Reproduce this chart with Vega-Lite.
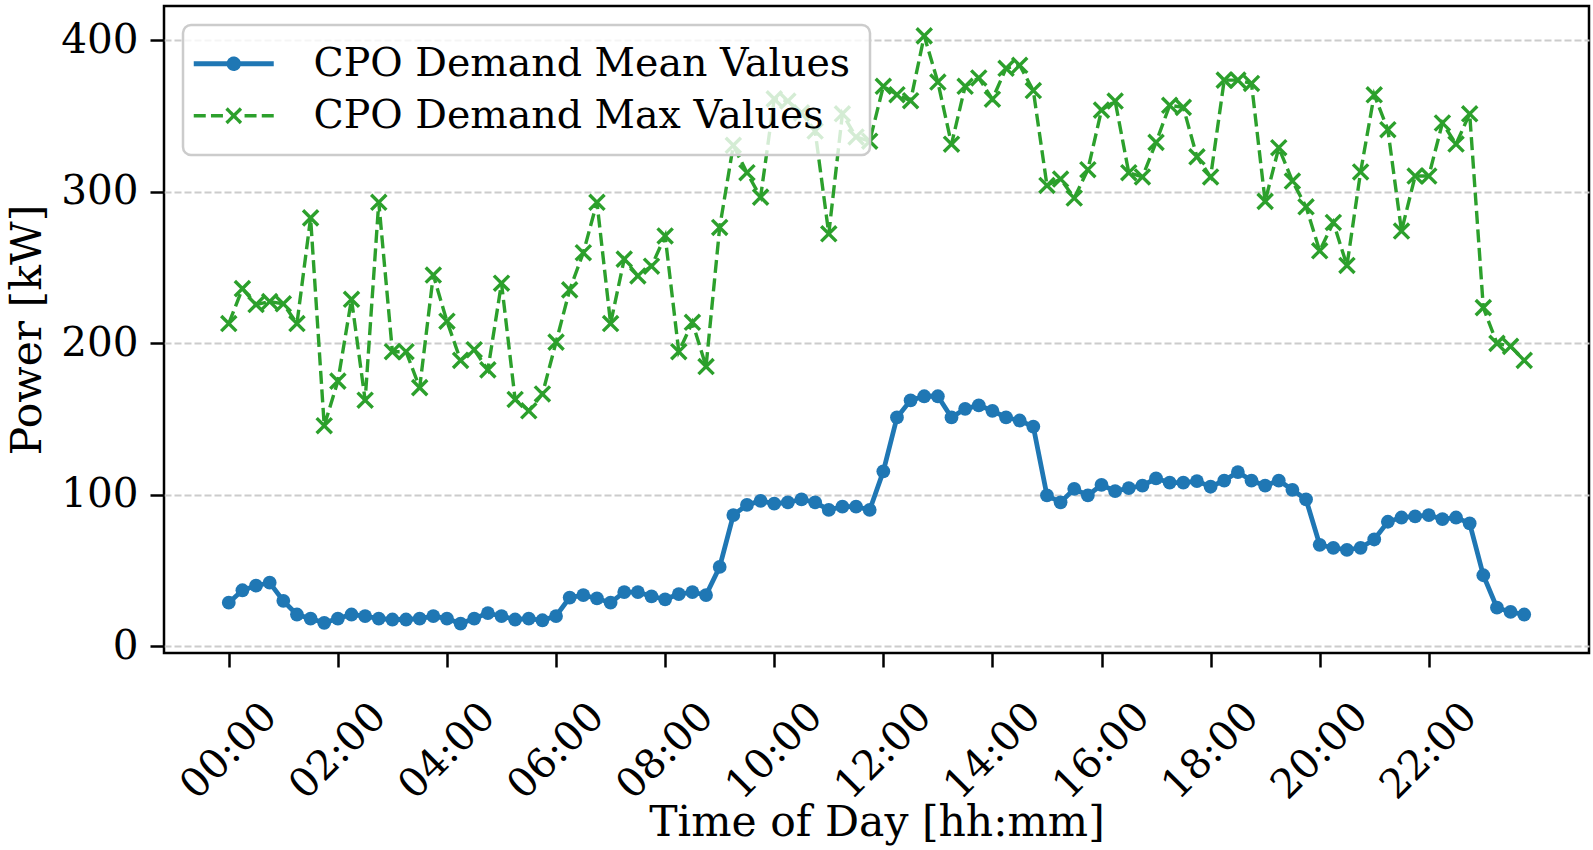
{
  "$schema": "https://vega.github.io/schema/vega-lite/v6.json",
  "width": 1425,
  "height": 647,
  "autosize": {"type": "none"},
  "padding": {"left": 164, "top": 6, "right": 4, "bottom": 197},
  "background": "white",
  "data": {
    "values": [
      {"hour": 0, "CPO Demand Mean Values": 28.8, "CPO Demand Max Values": 213},
      {"hour": 0.25, "CPO Demand Mean Values": 37, "CPO Demand Max Values": 236},
      {"hour": 0.5, "CPO Demand Mean Values": 40, "CPO Demand Max Values": 225.5},
      {"hour": 0.75, "CPO Demand Mean Values": 42, "CPO Demand Max Values": 227.5},
      {"hour": 1, "CPO Demand Mean Values": 30, "CPO Demand Max Values": 226},
      {"hour": 1.25, "CPO Demand Mean Values": 21, "CPO Demand Max Values": 213},
      {"hour": 1.5, "CPO Demand Mean Values": 18.3, "CPO Demand Max Values": 282.7},
      {"hour": 1.75, "CPO Demand Mean Values": 15.5, "CPO Demand Max Values": 145.6},
      {"hour": 2, "CPO Demand Mean Values": 18.3, "CPO Demand Max Values": 175},
      {"hour": 2.25, "CPO Demand Mean Values": 21, "CPO Demand Max Values": 229},
      {"hour": 2.5, "CPO Demand Mean Values": 20, "CPO Demand Max Values": 162.4},
      {"hour": 2.75, "CPO Demand Mean Values": 18.3, "CPO Demand Max Values": 293},
      {"hour": 3, "CPO Demand Mean Values": 17.7, "CPO Demand Max Values": 194.4},
      {"hour": 3.25, "CPO Demand Mean Values": 17.7, "CPO Demand Max Values": 194.4},
      {"hour": 3.5, "CPO Demand Mean Values": 18.3, "CPO Demand Max Values": 170.7},
      {"hour": 3.75, "CPO Demand Mean Values": 20, "CPO Demand Max Values": 245},
      {"hour": 4, "CPO Demand Mean Values": 18.3, "CPO Demand Max Values": 214.5},
      {"hour": 4.25, "CPO Demand Mean Values": 15, "CPO Demand Max Values": 188.7},
      {"hour": 4.5, "CPO Demand Mean Values": 18.3, "CPO Demand Max Values": 195.7},
      {"hour": 4.75, "CPO Demand Mean Values": 21.9, "CPO Demand Max Values": 182.4},
      {"hour": 5, "CPO Demand Mean Values": 20, "CPO Demand Max Values": 239.6},
      {"hour": 5.25, "CPO Demand Mean Values": 17.7, "CPO Demand Max Values": 162.9},
      {"hour": 5.5, "CPO Demand Mean Values": 18.3, "CPO Demand Max Values": 155.4},
      {"hour": 5.75, "CPO Demand Mean Values": 17.2, "CPO Demand Max Values": 166.5},
      {"hour": 6, "CPO Demand Mean Values": 20, "CPO Demand Max Values": 200.7},
      {"hour": 6.25, "CPO Demand Mean Values": 32.2, "CPO Demand Max Values": 235.2},
      {"hour": 6.5, "CPO Demand Mean Values": 33.8, "CPO Demand Max Values": 259.7},
      {"hour": 6.75, "CPO Demand Mean Values": 31.6, "CPO Demand Max Values": 293},
      {"hour": 7, "CPO Demand Mean Values": 28.8, "CPO Demand Max Values": 213},
      {"hour": 7.25, "CPO Demand Mean Values": 35.8, "CPO Demand Max Values": 255.5},
      {"hour": 7.5, "CPO Demand Mean Values": 35.8, "CPO Demand Max Values": 244.4},
      {"hour": 7.75, "CPO Demand Mean Values": 33, "CPO Demand Max Values": 250.8},
      {"hour": 8, "CPO Demand Mean Values": 31, "CPO Demand Max Values": 270.8},
      {"hour": 8.25, "CPO Demand Mean Values": 34.4, "CPO Demand Max Values": 194.4},
      {"hour": 8.5, "CPO Demand Mean Values": 35.8, "CPO Demand Max Values": 213.8},
      {"hour": 8.75, "CPO Demand Mean Values": 33.8, "CPO Demand Max Values": 184.6},
      {"hour": 9, "CPO Demand Mean Values": 52.4, "CPO Demand Max Values": 276.4},
      {"hour": 9.25, "CPO Demand Mean Values": 86.6, "CPO Demand Max Values": 330.6},
      {"hour": 9.5, "CPO Demand Mean Values": 93.3, "CPO Demand Max Values": 312.5},
      {"hour": 9.75, "CPO Demand Mean Values": 96, "CPO Demand Max Values": 296.4},
      {"hour": 10, "CPO Demand Mean Values": 94.1, "CPO Demand Max Values": 361.2},
      {"hour": 10.25, "CPO Demand Mean Values": 95, "CPO Demand Max Values": 359.8},
      {"hour": 10.5, "CPO Demand Mean Values": 96.9, "CPO Demand Max Values": 352},
      {"hour": 10.75, "CPO Demand Mean Values": 95, "CPO Demand Max Values": 340},
      {"hour": 11, "CPO Demand Mean Values": 90, "CPO Demand Max Values": 272.2},
      {"hour": 11.25, "CPO Demand Mean Values": 92.2, "CPO Demand Max Values": 351.4},
      {"hour": 11.5, "CPO Demand Mean Values": 92.2, "CPO Demand Max Values": 336.1},
      {"hour": 11.75, "CPO Demand Mean Values": 90, "CPO Demand Max Values": 333.3},
      {"hour": 12, "CPO Demand Mean Values": 115.5, "CPO Demand Max Values": 369.5},
      {"hour": 12.25, "CPO Demand Mean Values": 151, "CPO Demand Max Values": 364},
      {"hour": 12.5, "CPO Demand Mean Values": 162.3, "CPO Demand Max Values": 360},
      {"hour": 12.75, "CPO Demand Mean Values": 165, "CPO Demand Max Values": 402.8},
      {"hour": 13, "CPO Demand Mean Values": 165, "CPO Demand Max Values": 372.3},
      {"hour": 13.25, "CPO Demand Mean Values": 151, "CPO Demand Max Values": 331.3},
      {"hour": 13.5, "CPO Demand Mean Values": 156.7, "CPO Demand Max Values": 369.5},
      {"hour": 13.75, "CPO Demand Mean Values": 159, "CPO Demand Max Values": 375},
      {"hour": 14, "CPO Demand Mean Values": 155.4, "CPO Demand Max Values": 361},
      {"hour": 14.25, "CPO Demand Mean Values": 151, "CPO Demand Max Values": 381.4},
      {"hour": 14.5, "CPO Demand Mean Values": 149, "CPO Demand Max Values": 383.4},
      {"hour": 14.75, "CPO Demand Mean Values": 145, "CPO Demand Max Values": 366.7},
      {"hour": 15, "CPO Demand Mean Values": 99.6, "CPO Demand Max Values": 304.1},
      {"hour": 15.25, "CPO Demand Mean Values": 95, "CPO Demand Max Values": 308.3},
      {"hour": 15.5, "CPO Demand Mean Values": 103.9, "CPO Demand Max Values": 295.8},
      {"hour": 15.75, "CPO Demand Mean Values": 99.6, "CPO Demand Max Values": 314.5},
      {"hour": 16, "CPO Demand Mean Values": 106.6, "CPO Demand Max Values": 353.8},
      {"hour": 16.25, "CPO Demand Mean Values": 102.4, "CPO Demand Max Values": 359.8},
      {"hour": 16.5, "CPO Demand Mean Values": 104.4, "CPO Demand Max Values": 312.5},
      {"hour": 16.75, "CPO Demand Mean Values": 106, "CPO Demand Max Values": 309.7},
      {"hour": 17, "CPO Demand Mean Values": 110.8, "CPO Demand Max Values": 332.5},
      {"hour": 17.25, "CPO Demand Mean Values": 108, "CPO Demand Max Values": 357},
      {"hour": 17.5, "CPO Demand Mean Values": 108, "CPO Demand Max Values": 355.6},
      {"hour": 17.75, "CPO Demand Mean Values": 109, "CPO Demand Max Values": 323},
      {"hour": 18, "CPO Demand Mean Values": 105.3, "CPO Demand Max Values": 309.7},
      {"hour": 18.25, "CPO Demand Mean Values": 109.4, "CPO Demand Max Values": 373.6},
      {"hour": 18.5, "CPO Demand Mean Values": 115, "CPO Demand Max Values": 373.6},
      {"hour": 18.75, "CPO Demand Mean Values": 109.4, "CPO Demand Max Values": 371.4},
      {"hour": 19, "CPO Demand Mean Values": 106, "CPO Demand Max Values": 293.6},
      {"hour": 19.25, "CPO Demand Mean Values": 109.4, "CPO Demand Max Values": 329},
      {"hour": 19.5, "CPO Demand Mean Values": 103.3, "CPO Demand Max Values": 307},
      {"hour": 19.75, "CPO Demand Mean Values": 96.9, "CPO Demand Max Values": 290},
      {"hour": 20, "CPO Demand Mean Values": 67, "CPO Demand Max Values": 261},
      {"hour": 20.25, "CPO Demand Mean Values": 65, "CPO Demand Max Values": 279.7},
      {"hour": 20.5, "CPO Demand Mean Values": 63.6, "CPO Demand Max Values": 251.3},
      {"hour": 20.75, "CPO Demand Mean Values": 65, "CPO Demand Max Values": 313},
      {"hour": 21, "CPO Demand Mean Values": 70.5, "CPO Demand Max Values": 363.9},
      {"hour": 21.25, "CPO Demand Mean Values": 82.2, "CPO Demand Max Values": 340.9},
      {"hour": 21.5, "CPO Demand Mean Values": 85, "CPO Demand Max Values": 274},
      {"hour": 21.75, "CPO Demand Mean Values": 85.8, "CPO Demand Max Values": 310.3},
      {"hour": 22, "CPO Demand Mean Values": 86.6, "CPO Demand Max Values": 310.3},
      {"hour": 22.25, "CPO Demand Mean Values": 83.9, "CPO Demand Max Values": 345.3},
      {"hour": 22.5, "CPO Demand Mean Values": 85, "CPO Demand Max Values": 331.4},
      {"hour": 22.75, "CPO Demand Mean Values": 81.1, "CPO Demand Max Values": 351.4},
      {"hour": 23, "CPO Demand Mean Values": 46.9, "CPO Demand Max Values": 223.5},
      {"hour": 23.25, "CPO Demand Mean Values": 25.5, "CPO Demand Max Values": 199.9},
      {"hour": 23.5, "CPO Demand Mean Values": 22.7, "CPO Demand Max Values": 197.9},
      {"hour": 23.75, "CPO Demand Mean Values": 21, "CPO Demand Max Values": 188.7}
    ]
  },
  "transform": [
    {"fold": ["CPO Demand Mean Values", "CPO Demand Max Values"], "as": ["series", "power"]}
  ],
  "encoding": {
    "x": {
      "field": "hour",
      "type": "quantitative",
      "scale": {"domain": [-1.1875, 24.9375], "nice": false, "zero": false},
      "axis": {
        "title": "Time of Day [hh:mm]",
        "values": [0, 2, 4, 6, 8, 10, 12, 14, 16, 18, 20, 22],
        "labelExpr": "(datum.value < 10 ? '0' : '') + datum.value + ':00'",
        "labelAngle": -45,
        "labelAlign": "center",
        "labelBaseline": "middle",
        "labelPadding": 84,
        "titlePadding": -5,
        "grid": false
      }
    },
    "y": {
      "field": "power",
      "type": "quantitative",
      "scale": {"domain": [-4.4, 422.5], "nice": false, "zero": false},
      "axis": {
        "title": "Power [kW]",
        "values": [0, 100, 200, 300, 400],
        "labelPadding": 12,
        "titlePadding": 11,
        "grid": true,
        "gridColor": "#cccccc",
        "gridDash": [7, 3],
        "gridWidth": 1.8
      }
    },
    "color": {
      "field": "series",
      "type": "nominal",
      "scale": {
        "domain": ["CPO Demand Mean Values", "CPO Demand Max Values"],
        "range": ["#1f77b4", "#2ca02c"]
      },
      "legend": {
        "title": null,
        "orient": "top-left",
        "offset": 19,
        "padding": 19,
        "fillColor": "rgba(255,255,255,0.8)",
        "strokeColor": "#cccccc",
        "cornerRadius": 8,
        "labelFont": "DejaVu Serif",
        "labelFontSize": 39.5,
        "labelColor": "#000000",
        "labelLimit": 1000,
        "symbolSize": 6400,
        "symbolType": "M-1,0L1,0",
        "symbolOffset": 12,
        "labelOffset": 60,
        "rowPadding": 11,
        "encode": {
          "legend": {"update": {"strokeWidth": {"value": 2.5}}},
          "symbols": {
            "update": {
              "shape": {"signal": "datum.value === 'CPO Demand Mean Values' ? 'M-1,0L1,0M-0.12,0A0.12,0.12,0,1,1,0.12,0A0.12,0.12,0,1,1,-0.12,0Z' : 'M-1,0L-0.7,0M-0.57,0L-0.27,0M0.27,0L0.57,0M0.7,0L1,0M-0.18,-0.18L0.18,0.18M-0.18,0.18L0.18,-0.18'"},
              "fill": {"signal": "datum.value === 'CPO Demand Mean Values' ? '#1f77b4' : 'transparent'"},
              "stroke": {"signal": "datum.value === 'CPO Demand Mean Values' ? '#1f77b4' : '#2ca02c'"},
              "strokeWidth": {"signal": "datum.value === 'CPO Demand Mean Values' ? 4.8 : 3.4"},
              "strokeDash": {"value": [1, 0]},
              "opacity": {"value": 1},
              "fillOpacity": {"value": 1},
              "strokeOpacity": {"value": 1}
            }
          }
        }
      }
    }
  },
  "layer": [
    {
      "transform": [{"filter": "datum.series === 'CPO Demand Mean Values'"}],
      "mark": {"type": "line", "strokeWidth": 4.8}
    },
    {
      "transform": [{"filter": "datum.series === 'CPO Demand Mean Values'"}],
      "mark": {"type": "point", "shape": "circle", "filled": true, "size": 190, "opacity": 1}
    },
    {
      "transform": [{"filter": "datum.series === 'CPO Demand Max Values'"}],
      "mark": {"type": "line", "strokeWidth": 3.4, "strokeDash": [13, 5.5]}
    },
    {
      "transform": [{"filter": "datum.series === 'CPO Demand Max Values'"}],
      "mark": {"type": "point", "shape": "M-1,-1L1,1M-1,1L1,-1", "filled": false, "size": 230, "strokeWidth": 3.4, "opacity": 1}
    }
  ],
  "config": {
    "font": "DejaVu Serif",
    "view": {"stroke": "#000000", "strokeWidth": 2.5},
    "axis": {
      "domain": false,
      "ticks": true,
      "tickColor": "#000000",
      "tickWidth": 2.5,
      "tickSize": 14,
      "labelFont": "DejaVu Serif",
      "labelFontSize": 40.5,
      "labelColor": "#000000",
      "titleFont": "DejaVu Serif",
      "titleFontSize": 42.5,
      "titleFontWeight": "normal",
      "titleColor": "#000000",
      "labelOverlap": false,
      "labelFlush": false
    }
  }
}
